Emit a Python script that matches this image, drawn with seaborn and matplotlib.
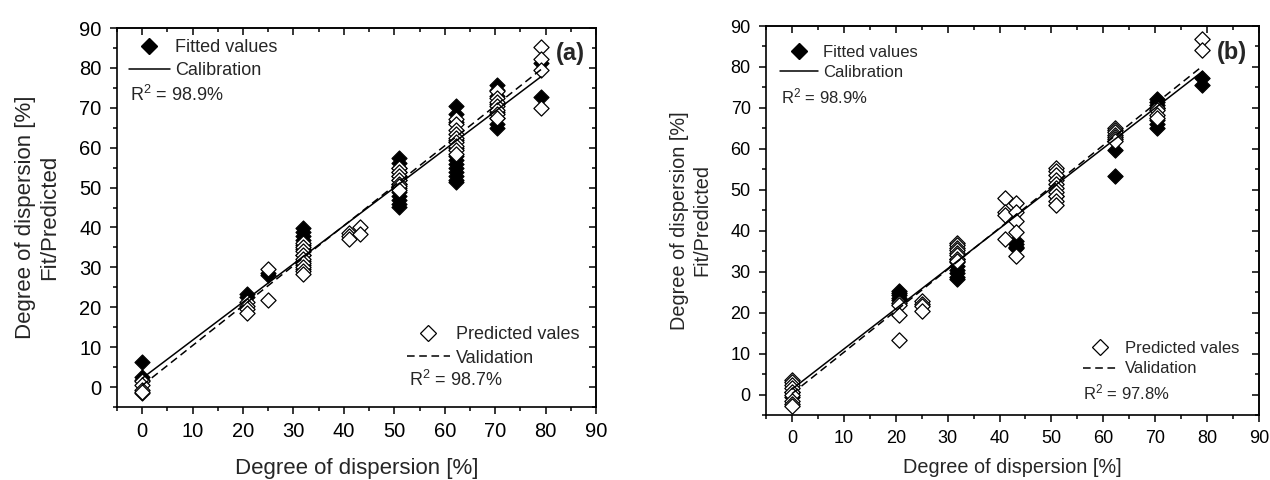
import numpy as np
import pandas as pd
import matplotlib
matplotlib.use("Agg")
import matplotlib.pyplot as plt
import seaborn as sns
from matplotlib.lines import Line2D
from matplotlib.legend import Legend

# ---------------- data: panel (a) ----------------
a_fit_x = [0, 0, 0, 0,
           20.7, 20.7,
           25, 25,
           31.8, 31.8, 31.8, 31.8, 31.8, 31.8, 31.8, 31.8, 31.8, 31.8,
           50.9, 50.9, 50.9, 50.9, 50.9, 50.9, 50.9, 50.9, 50.9, 50.9, 50.9, 50.9, 50.9,
           62.3, 62.3, 62.3, 62.3, 62.3, 62.3, 62.3, 62.3, 62.3, 62.3, 62.3, 62.3, 62.3,
           70.3, 70.3, 70.3, 70.3, 70.3, 70.3, 70.3, 70.3,
           79.1, 79.1]
a_fit_y = [6.3, 2.6, 1.8, -1.4,
           23.3, 22.5,
           28.5, 28.0,
           39.8, 38.8, 37.8, 36.8, 35.5, 34.5, 33.0, 31.5, 30.5, 29.5,
           57.3, 56.2, 55.0, 54.0, 53.0, 52.0, 51.0, 50.0, 49.0, 48.0, 47.0, 46.0, 45.2,
           70.5, 68.5, 66.5, 62.0, 60.0, 58.0, 57.0, 56.0, 55.0, 54.0, 53.0, 52.0, 51.3,
           75.6, 74.5, 73.0, 71.0, 69.0, 67.5, 66.0, 65.0,
           81.2, 72.8]
a_pred_x = [0, 0, 0, 0,
            20.7, 20.7, 20.7, 20.7,
            25, 25,
            31.8, 31.8, 31.8, 31.8, 31.8, 31.8, 31.8, 31.8, 31.8,
            41, 41, 41,
            43.2, 43.2,
            50.9, 50.9, 50.9, 50.9, 50.9, 50.9, 50.9,
            62.3, 62.3, 62.3, 62.3, 62.3, 62.3, 62.3, 62.3, 62.3,
            70.3, 70.3, 70.3, 70.3, 70.3, 70.3, 70.3,
            79.1, 79.1, 79.1, 79.1]
a_pred_y = [1.6, 0.5, -0.7, -1.3,
            21.2, 20.3, 19.5, 18.5,
            29.6, 21.8,
            36.0, 35.0, 34.0, 33.0, 32.0, 31.0, 30.0, 29.0, 28.3,
            38.6, 37.8, 37.2,
            40.1, 38.3,
            55.0, 54.0, 53.0, 52.0, 51.0, 50.5, 49.5,
            67.3, 66.0, 64.5, 63.5, 62.5, 61.5, 60.5, 59.5, 58.5,
            74.2, 72.5, 71.5, 70.5, 69.5, 68.5, 67.5,
            85.3, 82.3, 79.4, 70.0]
a_line_x = [0, 79.1]
a_calib_y = [2.2, 77.8]
a_valid_y = [0.4, 79.6]
a_r2_cal = "98.9%"
a_r2_val = "98.7%"

# ---------------- data: panel (b) ----------------
b_fit_x = [0, 0,
           20.7, 20.7, 20.7, 20.7, 20.7,
           31.8, 31.8, 31.8, 31.8, 31.8, 31.8, 31.8,
           43.2, 43.2, 43.2, 43.2,
           50.9,
           62.3, 62.3,
           70.3, 70.3, 70.3, 70.3, 70.3, 70.3, 70.3,
           79.1, 79.1]
b_fit_y = [0.5, -0.5,
           25.3, 24.8, 24.2, 23.6, 23.0,
           33.2, 32.3, 31.4, 30.5, 29.6, 28.7, 28.2,
           37.6, 36.8, 36.0, 35.8,
           48.5,
           59.8, 53.3,
           72.2, 71.5, 70.8, 70.0, 67.0, 66.0, 65.0,
           77.3, 75.7]
b_pred_x = [0, 0, 0, 0, 0, 0, 0, 0, 0,
            20.7, 20.7, 20.7, 20.7,
            25, 25, 25, 25,
            31.8, 31.8, 31.8, 31.8, 31.8, 31.8, 31.8, 31.8,
            41, 41, 41, 41,
            43.2, 43.2, 43.2, 43.2, 43.2,
            50.9, 50.9, 50.9, 50.9, 50.9, 50.9, 50.9, 50.9, 50.9, 50.9,
            62.3, 62.3, 62.3, 62.3, 62.3, 62.3, 62.3,
            70.3, 70.3, 70.3, 70.3,
            79.1, 79.1]
b_pred_y = [3.6, 3.0, 2.4, 1.7, 0.6, -0.2, -1.5, -2.2, -2.9,
            22.4, 21.8, 19.5, 13.3,
            22.8, 22.2, 21.5, 20.3,
            36.9, 36.4, 35.8, 35.2, 34.6, 34.0, 33.2, 32.5,
            48.0, 44.6, 43.8, 38.0,
            46.8, 44.5, 42.5, 39.8, 33.9,
            55.3, 54.5, 53.5, 52.5, 51.5, 50.5, 49.5, 48.4, 47.3, 46.4,
            65.0, 64.5, 64.0, 63.5, 63.0, 62.5, 62.0,
            70.0, 69.4, 68.2, 67.5,
            86.8, 84.1]
b_line_x = [0, 79.1]
b_calib_y = [1.3, 78.9]
b_valid_y = [0.2, 80.2]
b_r2_cal = "98.9%"
b_r2_val = "97.8%"

xticks = list(range(0, 91, 10))
yticks = list(range(0, 91, 10))
xlabel = "Degree of dispersion [%]"
ylabel = "Degree of dispersion [%]\nFit/Predicted"

# ---------------- style ----------------
sns.set_style("ticks")
plt.rcParams["font.family"] = ["Liberation Sans", "DejaVu Sans"]
plt.rcParams["mathtext.fontset"] = "custom"
plt.rcParams["mathtext.rm"] = "Liberation Sans"
plt.rcParams["mathtext.it"] = "Liberation Sans:italic"
plt.rcParams["mathtext.default"] = "regular"

W, H = 1270, 480
fig = plt.figure(figsize=(W / 100, H / 100), dpi=100)
fig.patch.set_facecolor("white")


def px_axes(l, r, t, b):
    return fig.add_axes([l / W, 1 - b / H, (r - l) / W, (b - t) / H])


def draw_panel(ax, fx, fy, px, py, lx, cy, vy, r2c, r2v, tag,
               tick_fs, lab_fs, leg_fs, tag_fs, ms,
               leg1, r2c_pos, leg2, r2v_pos, tag_pos, ylabpad, xlabpad,
               hl1, htp1, hl2, htp2, lsp):
    df_fit = pd.DataFrame({"x": fx, "y": fy})
    df_pred = pd.DataFrame({"x": px, "y": py})
    df_cal = pd.DataFrame({"x": lx, "y": cy})
    df_val = pd.DataFrame({"x": lx, "y": vy})

    sns.scatterplot(data=df_fit, x="x", y="y", ax=ax, marker="D", s=ms ** 2,
                    color="black", edgecolor="black", linewidth=0.8, zorder=3)
    sns.scatterplot(data=df_pred, x="x", y="y", ax=ax, marker="D", s=ms ** 2,
                    color="white", edgecolor="black", linewidth=0.9, zorder=4)
    sns.lineplot(data=df_cal, x="x", y="y", ax=ax, color="black", lw=1.1, zorder=5)
    sns.lineplot(data=df_val, x="x", y="y", ax=ax, color="black", lw=1.1,
                 linestyle=(0, (5, 3)), zorder=5)

    ax.set_xlim(-5, 90)
    ax.set_ylim(-5, 90)
    ax.set_xticks(xticks)
    ax.set_yticks(yticks)
    ax.set_xticks(np.arange(-5, 91, 5), minor=True)
    ax.set_yticks(np.arange(-5, 91, 5), minor=True)
    ax.tick_params(which="major", direction="out", length=5, width=1.1,
                   labelsize=tick_fs, pad=6, color="black", labelcolor="black")
    ax.tick_params(which="minor", direction="out", length=3, width=1.1, color="black")
    for s in ax.spines.values():
        s.set_linewidth(1.2)
        s.set_color("black")
        s.set_visible(True)

    sx = ax.secondary_xaxis("top")
    sx.set_xticks(xticks)
    sx.set_xticks(np.arange(-5, 91, 5), minor=True)
    sx.tick_params(which="both", direction="in", labeltop=False, width=1.1, color="black")
    sx.tick_params(which="major", length=5)
    sx.tick_params(which="minor", length=3)
    sx.spines["top"].set_linewidth(1.2)
    sy = ax.secondary_yaxis("right")
    sy.set_yticks(yticks)
    sy.set_yticks(np.arange(-5, 91, 5), minor=True)
    sy.tick_params(which="both", direction="in", labelright=False, width=1.1, color="black")
    sy.tick_params(which="major", length=5)
    sy.tick_params(which="minor", length=3)
    sy.spines["right"].set_linewidth(1.2)

    ax.set_xlabel(xlabel, fontsize=lab_fs, labelpad=xlabpad)
    ax.set_ylabel(ylabel, fontsize=lab_fs, labelpad=ylabpad, multialignment="center")

    h1 = [Line2D([], [], marker="D", ms=ms, color="black", linestyle="none"),
          Line2D([], [], color="black", lw=1.1)]
    L1 = Legend(ax, h1, ["Fitted values", "Calibration"], loc="upper left",
                bbox_to_anchor=leg1, frameon=False, fontsize=leg_fs,
                borderpad=0, borderaxespad=0, handlelength=hl1,
                handletextpad=htp1, labelspacing=lsp)
    ax.add_artist(L1)
    h2 = [Line2D([], [], marker="D", ms=ms, color="black", markerfacecolor="white",
                 markeredgewidth=0.9, linestyle="none"),
          Line2D([], [], color="black", lw=1.1, linestyle=(0, (5, 3)))]
    L2 = Legend(ax, h2, ["Predicted vales", "Validation"], loc="upper left",
                bbox_to_anchor=leg2, frameon=False, fontsize=leg_fs,
                borderpad=0, borderaxespad=0, handlelength=hl2,
                handletextpad=htp2, labelspacing=lsp)
    ax.add_artist(L2)

    ax.text(r2c_pos[0], r2c_pos[1], "R$^2$ = " + r2c, transform=ax.transAxes,
            fontsize=leg_fs, ha="left", va="center")
    ax.text(r2v_pos[0], r2v_pos[1], "R$^2$ = " + r2v, transform=ax.transAxes,
            fontsize=leg_fs, ha="left", va="center")
    ax.text(tag_pos[0], tag_pos[1], tag, transform=ax.transAxes,
            fontsize=tag_fs, fontweight="bold", ha="center", va="center")


axA = px_axes(117, 596, 28, 407)
axB = px_axes(766, 1259, 26, 415)

draw_panel(axA, a_fit_x, a_fit_y, a_pred_x, a_pred_y, a_line_x, a_calib_y, a_valid_y,
           a_r2_cal, a_r2_val, "(a)",
           tick_fs=14.5, lab_fs=16, leg_fs=13, tag_fs=17, ms=7.7,
           leg1=(0.025, 0.971), r2c_pos=(0.027, 0.823),
           leg2=(0.605, 0.213), r2v_pos=(0.610, 0.071),
           tag_pos=(0.946, 0.932), ylabpad=14, xlabpad=12,
           hl1=2.27, htp1=0.3, hl2=2.4, htp2=0.3, lsp=0.35)

draw_panel(axB, b_fit_x, b_fit_y, b_pred_x, b_pred_y, b_line_x, b_calib_y, b_valid_y,
           b_r2_cal, b_r2_val, "(b)",
           tick_fs=13, lab_fs=14.3, leg_fs=12, tag_fs=17, ms=7.8,
           leg1=(0.028, 0.952), r2c_pos=(0.030, 0.820),
           leg2=(0.643, 0.190), r2v_pos=(0.643, 0.059),
           tag_pos=(0.945, 0.933), ylabpad=14, xlabpad=8,
           hl1=2.28, htp1=0.3, hl2=2.0, htp2=0.54, lsp=0.32)

fig.savefig("out.png", dpi=100, facecolor="white")
